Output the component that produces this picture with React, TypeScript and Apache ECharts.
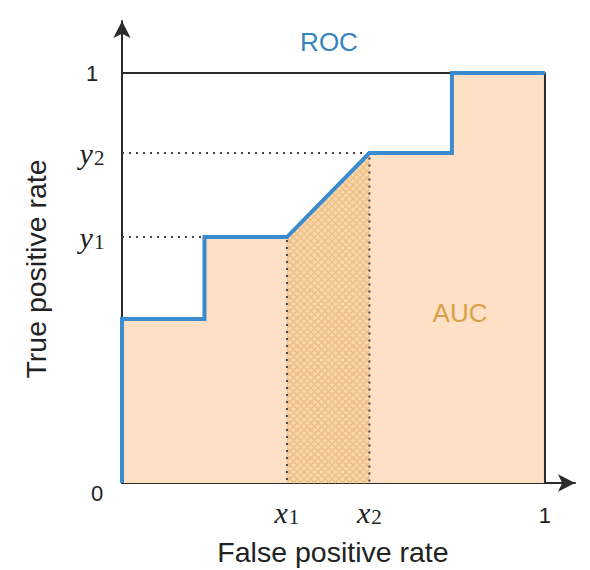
import React, { useEffect, useRef } from "react";
import * as echarts from "echarts";

// ROC curve (false positive rate, true positive rate)
const rocPoints: number[][] = [
  [0, 0], [0, 0.4], [0.195, 0.4], [0.195, 0.6], [0.39, 0.6],
  [0.585, 0.805], [0.78, 0.805], [0.78, 1], [1, 1],
];
const boxPoints: number[][] = [[0, 1], [1, 1], [1, 0]];
const x1 = 0.39;
const x2 = 0.585;
const y1 = 0.6;
const y2 = 0.805;
const guideA: number[][] = [[0, y1], [x1, y1], [x1, 0]];
const guideB: number[][] = [[0, y2], [x2, y2], [x2, 0]];
const hatchRegion: number[][] = [[x1, 0], [x1, y1], [x2, y2], [x2, 0]];
const xTicks = [x1, x2, 1];
const xTickLabels = ["{m|x}{s|1}", "{m|x}{s|2}", "{o|1}"];
const yTicks = [0, y1, y2, 1];
const yTickLabels = ["{z|0}", "{m|y}{s|1}", "{m|y}{s|2}", "{n|1}"];

type P = [number, number];

function clipLine(p0: P, d: P, poly: P[]): [P, P] | null {
  const cx = poly.reduce((s, p) => s + p[0], 0) / poly.length;
  const cy = poly.reduce((s, p) => s + p[1], 0) / poly.length;
  let tE = -Infinity;
  let tL = Infinity;
  for (let i = 0; i < poly.length; i++) {
    const a = poly[i];
    const b = poly[(i + 1) % poly.length];
    let nx = -(b[1] - a[1]);
    let ny = b[0] - a[0];
    if (nx * (cx - a[0]) + ny * (cy - a[1]) < 0) {
      nx = -nx;
      ny = -ny;
    }
    const num = nx * (p0[0] - a[0]) + ny * (p0[1] - a[1]);
    const den = nx * d[0] + ny * d[1];
    if (Math.abs(den) < 1e-9) {
      if (num < 0) return null;
      continue;
    }
    const t = -num / den;
    if (den > 0) tE = Math.max(tE, t);
    else tL = Math.min(tL, t);
  }
  if (!(tE < tL) || !isFinite(tE) || !isFinite(tL)) return null;
  return [
    [p0[0] + d[0] * tE, p0[1] + d[1] * tE],
    [p0[0] + d[0] * tL, p0[1] + d[1] * tL],
  ];
}

export default function App() {
  const ref = useRef<HTMLDivElement>(null);
  useEffect(() => {
    if (!ref.current) return;
    const chart = echarts.init(ref.current, undefined, { renderer: "svg" });
    const axisColor = "#2b2b2b";
    const richLabels = {
      m: { fontFamily: "Liberation Serif", fontStyle: "italic", fontSize: 30, color: "#222" },
      s: { fontFamily: "Liberation Serif", fontSize: 21, color: "#222", padding: [9, 0, 0, 1] },
      n: { fontFamily: "Liberation Sans", fontSize: 22, color: "#222" },
      o: { fontFamily: "Liberation Sans", fontSize: 22, color: "#222", padding: [7, 0, 0, 0] },
      z: { fontFamily: "Liberation Sans", fontSize: 22, color: "#222", padding: [20, 0, 0, 10] },
    };
    chart.setOption({
      animation: false,
      backgroundColor: "#ffffff",
      grid: { left: 122, right: 15, top: 21, bottom: 87 },
      xAxis: {
        type: "value",
        min: 0,
        max: 1.071,
        splitLine: { show: false },
        axisTick: { show: false },
        axisLine: {
          show: true,
          onZero: true,
          symbol: ["none", "arrow"],
          symbolSize: [13, 17],
          lineStyle: { color: axisColor, width: 2 },
        },
        axisLabel: {
          customValues: xTicks,
          margin: 14,
          formatter: (v: number) => {
            const i = xTicks.findIndex((t) => Math.abs(t - v) < 1e-6);
            return i >= 0 ? xTickLabels[i] : "";
          },
          rich: richLabels,
        },
      },
      yAxis: {
        type: "value",
        min: 0,
        max: 1.127,
        splitLine: { show: false },
        axisTick: { show: false },
        axisLine: {
          show: true,
          onZero: true,
          symbol: ["none", "arrow"],
          symbolSize: [13, 17],
          lineStyle: { color: axisColor, width: 2 },
        },
        axisLabel: {
          customValues: yTicks,
          margin: 30,
          align: "center",
          formatter: (v: number) => {
            const i = yTicks.findIndex((t) => Math.abs(t - v) < 1e-6);
            return i >= 0 ? yTickLabels[i] : "";
          },
          rich: richLabels,
        },
      },
      graphic: [
        {
          type: "text",
          x: 329,
          y: 42,
          style: {
            text: "ROC",
            fontFamily: "Liberation Sans",
            fontSize: 26,
            fill: "#3584bf",
            align: "center",
            verticalAlign: "middle",
          },
        },
        {
          type: "text",
          x: 460,
          y: 313,
          z: 10,
          style: {
            text: "AUC",
            fontFamily: "Liberation Sans",
            fontSize: 26,
            fill: "#d9a24a",
            align: "center",
            verticalAlign: "middle",
          },
        },
        {
          type: "text",
          x: 333,
          y: 552,
          style: {
            text: "False positive rate",
            fontFamily: "Liberation Sans",
            fontSize: 28.5,
            fill: "#222",
            align: "center",
            verticalAlign: "middle",
          },
        },
        {
          type: "text",
          x: 36,
          y: 269,
          rotation: Math.PI / 2,
          style: {
            text: "True positive rate",
            fontFamily: "Liberation Sans",
            fontSize: 28.5,
            fill: "#222",
            align: "center",
            verticalAlign: "middle",
          },
        },
      ],
      series: [
        {
          type: "line",
          name: "area",
          data: rocPoints,
          symbol: "none",
          silent: true,
          z: 1,
          lineStyle: { width: 0, opacity: 0 },
          areaStyle: { color: "#fde0c5", opacity: 1 },
        },
        {
          type: "custom",
          name: "hatch",
          coordinateSystem: "cartesian2d",
          silent: true,
          z: 2,
          clip: false,
          data: [[(x1 + x2) / 2, y1 / 2]],
          renderItem: (_params: any, api: any) => {
            const poly: P[] = hatchRegion.map((p) => api.coord(p) as P);
            const xs = poly.map((p) => p[0]);
            const ys = poly.map((p) => p[1]);
            const minX = Math.min(...xs), maxX = Math.max(...xs);
            const minY = Math.min(...ys), maxY = Math.max(...ys);
            const children: any[] = [
              {
                type: "polygon",
                shape: { points: poly },
                style: { fill: "#f9d6ad" },
              },
            ];
            const step = 7;
            const stroke = "#efbf82";
            for (let c = minX - maxY; c <= maxX - minY; c += step) {
              const seg = clipLine([c, 0], [1, 1], poly);
              if (seg)
                children.push({
                  type: "line",
                  shape: { x1: seg[0][0], y1: seg[0][1], x2: seg[1][0], y2: seg[1][1] },
                  style: { stroke, lineWidth: 1.2 },
                });
            }
            for (let c = minX + minY; c <= maxX + maxY; c += step) {
              const seg = clipLine([c, 0], [1, -1], poly);
              if (seg)
                children.push({
                  type: "line",
                  shape: { x1: seg[0][0], y1: seg[0][1], x2: seg[1][0], y2: seg[1][1] },
                  style: { stroke, lineWidth: 1.2 },
                });
            }
            return { type: "group", children };
          },
        },
        {
          type: "line",
          name: "guideA",
          data: guideA,
          symbol: "none",
          silent: true,
          z: 3,
          lineStyle: { color: "#444", width: 2, type: [2, 5] },
        },
        {
          type: "line",
          name: "guideB",
          data: guideB,
          symbol: "none",
          silent: true,
          z: 3,
          lineStyle: { color: "#444", width: 2, type: [2, 5] },
        },
        {
          type: "line",
          name: "box",
          data: boxPoints,
          symbol: "none",
          silent: true,
          z: 4,
          lineStyle: { color: "#2b2b2b", width: 2 },
        },
        {
          type: "line",
          name: "ROC",
          data: rocPoints,
          symbol: "none",
          silent: true,
          z: 5,
          lineStyle: { color: "#3b8bcf", width: 4, join: "miter" },
        },
      ],
    });
    return () => chart.dispose();
  }, []);
  return (
    <div
      ref={ref}
      style={{ position: "fixed", left: 0, top: 0, width: 590, height: 570, background: "#fff" }}
    />
  );
}
